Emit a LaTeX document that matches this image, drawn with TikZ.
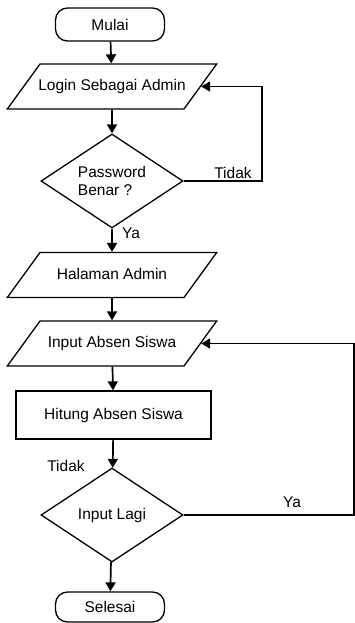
\documentclass[tikz,border=0pt]{standalone}
\usepackage{fontspec}
\setmainfont{Liberation Sans}
\usetikzlibrary{arrows.meta,shapes.geometric}
\newcommand\warnaGaris{black}
\newcommand\isiIO[1]{\makebox[144pt]{#1}}

\tikzset{
	>={Triangle[length=9pt,width=10pt]},
	garis/.style={draw=\warnaGaris, line width=1.3pt},
	panah/.style={draw=\warnaGaris, line width=1.7pt, ->},
	terminal/.style={garis, rounded corners=12pt, minimum width=109pt, minimum height=33pt},
	io/.style={garis, trapezium, trapezium left angle=54, trapezium right angle=126, text height=11pt, text depth=3pt, inner xsep=0pt, inner ysep=15.5pt},
	proses/.style={garis, rectangle, minimum width=195pt, minimum height=48pt},
	keputusan/.style={garis, diamond, aspect=1.5, minimum width=142pt, minimum height=94pt, inner sep=0pt, align=left},
	label/.style={inner sep=0pt}
}

\begin{document}
\begin{tikzpicture}[x=1pt, y=-1pt, font=\fontsize{15.5}{17.5}\selectfont]
		\useasboundingbox (0,0) rectangle (355,623);
	
		\node[terminal] (mulai) at (110,24.5) {Mulai};
		\node[io] (login) at (112,86.5) {\isiIO{Login Sebagai Admin}};
		\node[keputusan] (pw) at (112,181) {Password\\Benar ?};
		\node[io] (halaman) at (112,275) {\isiIO{Halaman Admin}};
		\node[io] (input) at (112,343.5) {\isiIO{Input Absen Siswa}};
		\node[proses] (hitung) at (113.5,415) {Hitung Absen Siswa};
		\node[keputusan] (lagi) at (112,515) {Input Lagi};
		\node[terminal, minimum height=30pt] (selesai) at (110,607) {Selesai};
	
		\coordinate (kanan) at (354,515);
	
		\draw[panah] (mulai) -- (login);
		\draw[panah] (login) -- (pw);
		\draw[panah] (pw) -- (halaman);
		\draw[panah] (halaman) -- (input);
		\draw[panah] (input) -- (hitung);
		\draw[panah] (hitung) -- (lagi);
		\draw[panah] (lagi) -- (selesai);
	
		% ulangi login
		\draw[panah] (pw.east) -- ++(78,0) |- (login.east);
		% ulangi input
		\draw[panah] (lagi.east) -- (kanan) |- (input.east);
	
		\node[label] at (233,173) {Tidak};
		\node[label] at (131,233) {Ya};
		\node[label] at (66,466) {Tidak};
		\node[label] at (292,502) {Ya};
	\end{tikzpicture}
\end{document}
